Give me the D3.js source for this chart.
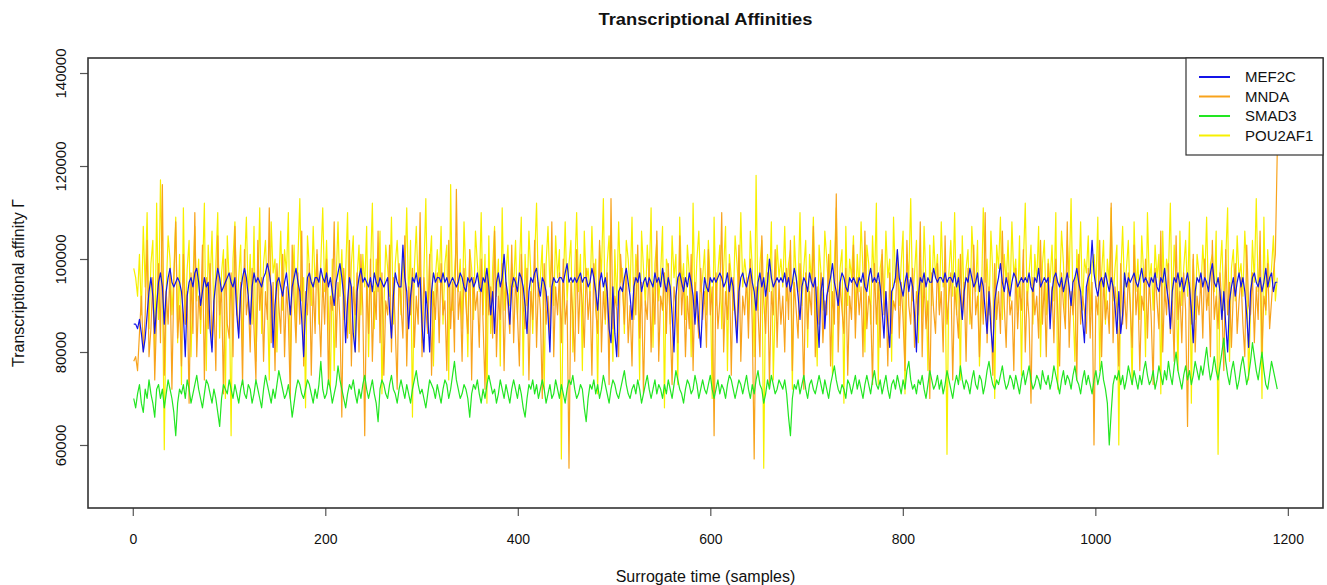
<!DOCTYPE html>
<html>
<head>
<meta charset="utf-8">
<script src="https://cdn.jsdelivr.net/npm/d3@7"></script>
<style>
  body { margin: 0; background: #fff; }
  text { font-family: "Liberation Sans", Arial, sans-serif; fill: #111; }
</style>
</head>
<body>
<div id="vis"></div>
<script>
// transcriptional affinity per surrogate sample, in thousands (read roughly every 2nd sample)
const SAMPLE_FIRST = 1;
const SAMPLE_LAST = 1189;

const MEF2C = [
  86,86,85,87,84,80,83,88,93,96,92,84,90,95,97,94,86,93,96,98,
  95,94,95,96,95,93,88,79,92,95,96,94,97,98,95,90,93,96,94,95,
  85,80,91,95,98,96,93,94,95,96,97,95,94,96,88,83,93,96,98,96,
  92,86,94,97,95,96,95,94,96,97,99,97,94,81,90,95,96,94,92,95,
  97,93,88,94,96,98,95,93,87,79,90,96,97,95,94,96,96,95,98,96,
  95,97,94,96,93,90,95,97,99,96,92,82,91,96,94,84,80,93,96,98,
  95,96,95,94,96,93,97,95,94,96,95,94,95,96,89,83,92,97,95,94,
  94,103,96,93,85,92,96,95,97,94,96,86,80,93,88,80,93,97,95,96,
  96,95,97,95,96,94,95,96,95,94,95,97,96,94,93,96,95,96,94,95,
  97,94,93,96,95,98,94,88,93,84,95,97,94,96,101,95,92,86,94,96,
  95,93,97,96,94,90,84,93,96,95,97,98,94,92,96,95,93,88,80,94,
  96,95,95,96,96,95,97,99,95,96,95,96,95,96,97,95,96,96,94,95,
  98,96,93,89,95,97,94,96,93,85,82,94,84,79,93,94,93,96,98,95,
  92,87,94,96,95,97,93,95,96,94,96,95,94,97,95,96,94,98,95,93,
  96,94,88,80,92,96,97,95,93,96,94,97,95,92,86,93,86,81,90,96,
  94,93,96,95,96,95,96,97,96,94,95,97,93,96,94,88,82,93,96,97,
  95,94,96,98,95,93,89,95,97,94,96,92,95,100,96,94,95,96,95,96,
  95,97,94,96,93,95,98,96,92,87,94,96,95,93,97,95,94,96,88,81,
  93,96,85,92,94,96,99,95,93,90,95,97,96,94,93,96,95,96,95,94,
  96,95,97,94,93,96,98,95,96,95,97,94,89,83,93,86,81,93,94,96,
  102,96,94,92,95,97,93,96,94,88,80,92,96,95,97,94,96,95,95,98,
  96,95,96,96,95,97,95,96,96,95,97,94,96,92,87,93,96,95,98,96,
  94,95,97,93,96,94,89,84,93,85,80,91,94,96,99,95,93,96,94,92,
  95,97,96,94,95,96,95,96,95,97,94,93,96,95,98,94,95,96,95,96,
  85,93,96,97,95,94,96,93,95,97,94,90,95,96,98,95,93,87,82,94,
  96,97,104,97,94,92,95,96,94,97,95,93,96,94,90,84,93,84,88,97,
  94,96,95,96,97,95,94,96,98,95,96,95,94,96,95,97,94,93,96,95,
  98,94,91,85,93,96,95,97,94,96,93,95,97,94,89,82,93,96,95,97,
  94,96,95,93,97,99,95,94,96,93,87,93,86,80,91,94,96,92,95,97,
  94,96,93,88,81,93,96,97,95,94,96,93,95,98,94,96,97,93,95,95
];

const MNDA = [
  78,79,76,84,92,80,88,104,79,85,96,74,88,99,82,116,75,93,86,98,
  72,95,108,83,90,77,101,86,93,69,97,84,110,79,92,87,103,74,96,85,
  99,81,91,76,105,88,94,71,100,86,83,97,79,107,90,84,95,73,102,88,
  92,80,98,85,74,104,89,96,78,93,87,111,82,95,76,99,90,84,101,79,
  94,87,70,103,91,82,97,86,106,77,93,88,99,75,95,84,102,90,79,96,
  86,100,73,92,89,108,81,95,87,66,98,90,83,104,77,94,88,97,80,101,
  89,62,95,84,100,78,93,87,106,82,97,75,91,88,103,80,96,85,72,99,
  90,83,105,77,94,88,98,81,92,86,110,79,96,89,84,101,75,93,87,97,
  82,99,88,91,76,104,85,95,80,115,87,93,78,98,90,84,102,74,96,89,
  93,81,100,86,72,97,88,94,83,106,79,92,87,99,76,95,90,84,103,82,
  96,88,77,101,90,85,98,74,93,87,104,81,95,89,70,99,86,92,83,108,
  79,94,88,97,82,100,86,91,55,95,88,78,102,84,96,90,81,98,87,93,
  75,99,89,84,104,80,93,87,97,73,113,85,92,89,79,101,94,86,98,82,
  90,77,96,88,103,83,95,71,91,87,100,80,94,86,106,78,92,89,97,84,
  99,86,73,94,90,82,105,88,96,79,92,85,101,76,95,89,83,98,87,93,
  81,102,88,94,62,97,85,91,110,80,93,87,99,75,96,89,84,103,78,92,
  88,96,83,100,86,57,94,89,79,105,91,84,97,73,93,88,102,81,95,86,
  92,80,98,87,104,76,95,89,83,99,90,72,97,85,93,88,107,79,94,86,
  97,82,91,88,101,77,93,86,114,80,95,89,84,98,75,92,87,103,83,96,
  88,94,79,106,85,92,90,73,99,86,95,81,102,88,93,77,97,84,91,89,
  100,83,95,87,76,104,90,86,98,81,93,88,108,79,96,85,91,70,97,89,
  84,99,88,93,80,105,86,92,97,74,94,89,83,101,87,95,78,98,90,85,
  103,88,92,79,96,86,110,82,94,89,75,99,87,93,84,106,90,81,97,88,
  91,76,98,85,94,89,102,80,93,87,69,96,88,92,83,104,86,95,79,99,
  87,94,82,100,89,77,97,90,85,108,81,93,88,96,74,101,86,92,89,84,
  98,83,95,60,92,88,104,79,96,87,91,84,112,82,94,89,77,99,86,93,
  85,97,90,81,103,88,94,76,92,89,100,83,96,87,73,98,91,85,106,80,
  94,88,99,84,91,78,105,87,93,82,97,89,64,95,86,101,80,92,88,96,
  83,100,89,94,79,104,87,92,85,97,90,76,102,88,95,81,93,99,84,91,
  96,86,79,103,90,88,97,82,94,87,106,80,92,89,99,85,91,97,101,123
];

const SMAD3 = [
  70,68,71,73,69,67,72,70,74,71,69,66,72,73,70,72,68,71,74,72,
  70,67,62,69,72,71,73,70,74,72,69,71,73,75,72,70,68,71,74,73,
  71,69,72,70,67,64,70,73,72,71,74,72,70,73,71,69,72,74,71,70,
  73,72,69,71,74,72,70,68,72,75,73,71,69,72,70,73,76,74,72,70,
  71,73,70,66,69,72,74,73,71,70,72,74,73,71,69,72,70,73,78,72,
  70,71,74,72,69,71,73,77,74,72,70,68,71,73,72,74,71,69,72,70,
  73,75,72,70,72,74,71,69,65,72,74,73,71,70,73,75,72,71,69,72,
  74,72,70,73,71,69,72,74,76,73,71,72,70,68,71,74,73,72,70,73,
  71,69,72,74,73,70,72,75,78,74,72,70,71,73,72,70,66,71,73,72,
  74,71,69,72,70,73,75,73,71,72,69,71,74,72,70,73,71,69,72,74,
  72,70,73,71,68,66,70,73,72,74,71,73,70,72,74,72,69,71,73,70,
  71,74,72,70,73,71,69,72,74,73,75,72,70,71,73,72,68,65,70,73,
  72,74,71,73,70,72,75,73,71,69,72,74,73,71,70,72,74,76,73,71,
  70,72,73,71,74,72,69,71,73,75,72,70,72,74,71,73,72,70,73,71,
  74,72,70,73,76,74,72,71,69,72,74,73,71,72,75,73,70,72,74,72,
  71,73,75,72,70,72,74,71,73,72,70,73,75,74,72,70,72,74,73,71,
  73,75,72,70,73,71,74,76,73,72,69,71,74,72,75,73,71,72,74,73,
  72,74,71,66,62,70,73,72,74,71,73,75,72,70,73,74,72,71,73,75,
  73,71,74,72,70,73,75,77,74,72,71,73,72,70,74,73,71,73,75,72,
  74,72,70,73,75,73,71,74,76,73,72,74,71,73,75,72,70,73,74,72,
  75,73,71,74,72,76,78,74,72,73,71,74,73,75,72,70,73,76,74,72,
  73,75,72,74,71,73,76,74,72,70,73,75,73,77,74,72,74,73,71,74,
  76,73,72,75,74,71,73,76,78,75,73,72,74,73,75,77,74,72,73,75,
  74,72,75,73,71,74,76,73,75,77,74,72,73,75,74,72,76,74,73,75,
  72,74,77,75,73,71,74,76,73,75,74,72,75,77,74,73,71,74,76,73,
  75,73,71,74,76,73,75,78,74,72,69,60,67,73,75,74,76,73,75,72,
  74,77,75,73,76,74,72,75,73,76,78,75,73,74,76,72,74,77,75,73,
  76,74,78,75,73,77,80,76,74,72,75,77,74,76,73,75,78,76,74,77,
  75,78,81,77,74,76,79,76,74,77,80,83,78,75,73,76,78,75,72,74,
  77,79,76,73,75,78,82,79,76,74,77,80,76,73,72,75,78,76,74,72
];

const POU2AF1 = [
  98,96,92,101,88,107,94,110,85,99,104,78,112,87,117,96,59,93,105,100,
  88,97,109,82,101,73,111,86,98,104,79,95,107,91,100,84,96,112,76,103,
  94,106,87,99,110,83,97,102,70,105,95,62,100,108,88,96,103,81,98,109,
  91,101,86,107,78,93,111,84,99,104,92,74,108,97,100,80,95,106,89,102,
  97,110,76,94,103,85,100,113,91,96,68,105,98,90,107,94,101,86,99,111,
  93,104,89,72,100,76,95,108,92,102,87,97,110,84,99,105,80,96,103,88,
  101,94,107,79,97,112,85,100,93,106,71,89,103,98,92,109,86,99,104,95,
  88,100,96,111,91,104,66,98,107,94,101,82,97,113,87,99,105,77,96,102,
  95,107,86,99,103,74,116,89,97,104,93,100,85,108,96,79,102,98,87,106,
  99,93,110,88,101,69,105,84,98,107,92,100,77,111,89,97,103,90,99,94,
  104,87,98,109,75,101,90,106,97,84,100,112,92,96,103,72,99,107,94,101,
  90,105,96,102,57,94,108,91,99,104,80,97,110,93,101,76,106,95,98,92,
  107,94,100,71,103,97,113,86,99,105,91,78,102,90,108,95,98,84,104,100,
  93,109,87,101,96,74,106,98,90,103,95,111,81,99,104,91,97,107,68,100,
  98,86,105,96,101,73,109,94,99,87,103,97,79,112,89,100,106,93,96,102,
  88,104,95,70,109,90,97,103,85,98,107,76,101,96,89,105,99,92,110,94,
  100,96,87,106,98,79,118,89,99,104,55,95,101,93,108,74,90,103,96,100,
  94,107,91,99,102,72,105,96,93,110,90,98,104,81,101,95,109,92,77,103,
  97,89,106,100,93,104,75,99,111,87,98,102,69,107,90,100,96,105,88,101,
  93,108,97,80,103,99,86,105,94,112,73,98,101,89,106,96,100,78,109,95,
  102,90,99,106,71,101,96,113,91,97,104,82,100,87,107,95,76,103,90,105,
  96,101,89,108,94,99,58,97,104,92,110,88,100,74,105,91,98,102,86,107,
  99,93,104,77,90,111,95,100,88,106,97,70,103,98,109,87,101,95,104,91,
  108,96,100,89,105,75,99,112,90,97,103,86,101,95,107,79,99,104,88,100,
  95,103,91,110,72,93,106,99,87,104,96,113,90,78,102,94,108,89,100,97,
  105,88,99,101,94,109,76,97,104,86,100,95,111,91,98,103,60,96,107,93,
  98,104,90,73,108,93,100,87,105,97,79,110,95,99,89,103,96,101,71,106,
  91,100,97,112,88,103,95,76,106,90,98,104,92,108,69,100,87,101,97,93,
  103,95,109,90,99,101,93,106,58,97,104,89,100,111,78,98,102,91,105,96,
  99,92,106,97,74,89,104,95,113,93,100,70,109,88,102,94,98,105,91,96
];

const SERIES_NAMES = ["MEF2C", "MNDA", "SMAD3", "POU2AF1"];
const SERIES_VALUES = [MEF2C, MNDA, SMAD3, POU2AF1];
const SERIES_COLORS = ["#1414e8", "#f8a31c", "#22e622", "#f7f000"];
// drawing order, last one on top
const DRAW_ORDER = ["POU2AF1", "MNDA", "SMAD3", "MEF2C"];

const X_TICKS = [0, 200, 400, 600, 800, 1000, 1200];
const Y_TICKS = [60, 80, 100, 120, 140];

const FRAME_WIDTH = 1327;
const FRAME_HEIGHT = 585;
const PLOT = { left: 88, right: 1323, top: 58, bottom: 508 };

const FRAME = d3
  .select("#vis")
  .append("svg")
  .attr("width", FRAME_WIDTH)
  .attr("height", FRAME_HEIGHT);

// R style 4% padding of the x range
const X_PAD = (SAMPLE_LAST - SAMPLE_FIRST) * 0.04;
const X_SCALE = d3
  .scaleLinear()
  .domain([SAMPLE_FIRST - X_PAD, SAMPLE_LAST + X_PAD])
  .range([PLOT.left, PLOT.right]);

const Y_SCALE = d3
  .scaleLinear()
  .domain([46.45, 143.23])
  .range([PLOT.bottom, PLOT.top]);

const COLOR = d3.scaleOrdinal().domain(SERIES_NAMES).range(SERIES_COLORS);

FRAME.append("clipPath")
  .attr("id", "plot-clip")
  .append("rect")
  .attr("x", PLOT.left)
  .attr("y", PLOT.top)
  .attr("width", PLOT.right - PLOT.left)
  .attr("height", PLOT.bottom - PLOT.top);

const LINE_GROUP = FRAME.append("g").attr("clip-path", "url(#plot-clip)");

DRAW_ORDER.forEach((name) => {
  const values = SERIES_VALUES[SERIES_NAMES.indexOf(name)];
  const step = (SAMPLE_LAST - SAMPLE_FIRST) / (values.length - 1);
  const line = d3
    .line()
    .x((d, i) => X_SCALE(SAMPLE_FIRST + i * step))
    .y((d) => Y_SCALE(d));

  LINE_GROUP.append("path")
    .datum(values)
    .attr("d", line)
    .attr("fill", "none")
    .attr("stroke", COLOR(name))
    .attr("stroke-width", 1.2)
    .attr("stroke-linejoin", "round");
});

// x axis
const X_AXIS = FRAME.append("g")
  .attr("transform", `translate(0, ${PLOT.bottom})`)
  .call(
    d3.axisBottom(X_SCALE).tickValues(X_TICKS).tickFormat(d3.format("d")).tickSize(8).tickPadding(18)
  );
X_AXIS.select(".domain").remove();
X_AXIS.selectAll(".tick line").attr("stroke", "#555").attr("stroke-width", 1.2);
X_AXIS.selectAll(".tick text")
  .attr("font-size", 14)
  .attr("font-family", "Liberation Sans, Arial, sans-serif")
  .attr("fill", "#111");

// y axis, labels turned like R's default
const Y_AXIS = FRAME.append("g")
  .attr("transform", `translate(${PLOT.left}, 0)`)
  .call(d3.axisLeft(Y_SCALE).tickValues(Y_TICKS).tickSize(8).tickFormat((d) => d * 1000));
Y_AXIS.select(".domain").remove();
Y_AXIS.selectAll(".tick line").attr("stroke", "#555").attr("stroke-width", 1.2);
Y_AXIS.selectAll(".tick text")
  .attr("x", null)
  .attr("dy", null)
  .attr("transform", "translate(-22, 0) rotate(-90)")
  .attr("text-anchor", "middle")
  .attr("font-size", 15)
  .attr("font-family", "Liberation Sans, Arial, sans-serif")
  .attr("fill", "#111");

// plot box
FRAME.append("rect")
  .attr("x", PLOT.left)
  .attr("y", PLOT.top)
  .attr("width", PLOT.right - PLOT.left)
  .attr("height", PLOT.bottom - PLOT.top)
  .attr("fill", "none")
  .attr("stroke", "#333")
  .attr("stroke-width", 1.6);

// titles
FRAME.append("text")
  .attr("x", (PLOT.left + PLOT.right) / 2)
  .attr("y", 25)
  .attr("text-anchor", "middle")
  .attr("textLength", 214)
  .attr("lengthAdjust", "spacingAndGlyphs")
  .style("font-size", "16px")
  .style("font-weight", "bold")
  .text("Transcriptional Affinities");

FRAME.append("text")
  .attr("x", (PLOT.left + PLOT.right) / 2)
  .attr("y", 582)
  .attr("text-anchor", "middle")
  .style("font-size", "16px")
  .text("Surrogate time (samples)");

FRAME.append("text")
  .attr("transform", `translate(24, ${(PLOT.top + PLOT.bottom) / 2}) rotate(-90)`)
  .attr("text-anchor", "middle")
  .style("font-size", "16px")
  .text("Transcriptional affinity \u0393");

// legend, top right inside the box
const LEGEND = { left: 1186, top: PLOT.top, width: PLOT.right - 1186, height: 97, rowGap: 19.5 };
const LEGEND_G = FRAME.append("g");
LEGEND_G.append("rect")
  .attr("x", LEGEND.left)
  .attr("y", LEGEND.top)
  .attr("width", LEGEND.width)
  .attr("height", LEGEND.height)
  .attr("fill", "#fff")
  .attr("stroke", "#333")
  .attr("stroke-width", 1.2);

const LEGEND_ROWS = LEGEND_G.selectAll(".row")
  .data(SERIES_NAMES)
  .enter()
  .append("g")
  .attr("transform", (d, i) => `translate(${LEGEND.left}, ${LEGEND.top + 19 + i * LEGEND.rowGap})`);

LEGEND_ROWS.append("line")
  .attr("x1", 13)
  .attr("x2", 44)
  .attr("stroke", (d) => COLOR(d))
  .attr("stroke-width", 2);

LEGEND_ROWS.append("text")
  .attr("x", 59)
  .attr("dy", "0.36em")
  .style("font-size", "15px")
  .text((d) => d);
</script>
</body>
</html>
